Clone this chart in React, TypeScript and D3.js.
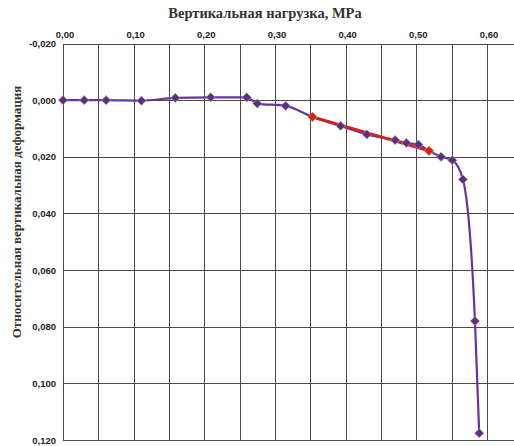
import React, { useEffect, useRef } from 'react';
import * as d3 from 'd3';

// Вертикальная нагрузка, MPa
const loads = [0, 0.03, 0.061, 0.111, 0.159, 0.209, 0.26, 0.275, 0.315, 0.353, 0.393, 0.43, 0.47, 0.486, 0.503, 0.518, 0.535, 0.551, 0.566, 0.583, 0.589];
// Относительная вертикальная деформация
const strains = [0, 0, 0, 0.0002, -0.0008, -0.001, -0.001, 0.0012, 0.002, 0.0059, 0.0091, 0.0121, 0.0141, 0.0151, 0.0157, 0.0179, 0.02, 0.0212, 0.028, 0.078, 0.1176];
// linear segment highlighted in red
const redLoads = [0.353, 0.518];
const redStrains = [0.0059, 0.0179];

const xTicks = [0, 0.1, 0.2, 0.3, 0.4, 0.5, 0.6];
const yTicks = [-0.02, 0, 0.02, 0.04, 0.06, 0.08, 0.1, 0.12];

const fmt = (v: number, d: number) => v.toFixed(d).replace('.', ',');

export default function App() {
  const svgRef = useRef<SVGSVGElement>(null);

  useEffect(() => {
    if (!svgRef.current) return;
    const svg = d3.select(svgRef.current);
    svg.selectAll('*').remove();

    const x = d3.scaleLinear().domain([0, 0.65]).range([63, 522.3]);
    const y = d3.scaleLinear().domain([-0.02, 0.12]).range([43.5, 440]);

    const pts = loads.map((l, i) => ({ x: l, y: strains[i] }));
    const red = redLoads.map((l, i) => ({ x: l, y: redStrains[i] }));

    // grid
    const grid = svg.append('g').attr('stroke', '#4a4a4a').attr('stroke-width', 1).attr('shape-rendering', 'crispEdges');
    grid.selectAll('line.v')
      .data(d3.range(0, 13).map(i => i * 0.05))
      .enter().append('line')
      .attr('x1', d => Math.round(x(d)) + 0.5)
      .attr('x2', d => Math.round(x(d)) + 0.5)
      .attr('y1', y(-0.02))
      .attr('y2', y(0.12));
    grid.selectAll('line.h')
      .data(yTicks)
      .enter().append('line')
      .attr('x1', x(0))
      .attr('x2', 514)
      .attr('y1', d => Math.round(y(d)) + 0.5)
      .attr('y2', d => Math.round(y(d)) + 0.5);

    // tick labels
    svg.append('g').selectAll('text')
      .data(xTicks)
      .enter().append('text')
      .attr('x', d => x(d) + 2)
      .attr('y', 38)
      .attr('text-anchor', 'middle')
      .attr('font-family', 'Liberation Sans, Arial, sans-serif')
      .attr('font-size', 9.5)
      .attr('font-weight', 'bold')
      .attr('fill', '#222')
      .text(d => fmt(d, 2));

    svg.append('g').selectAll('text')
      .data(yTicks)
      .enter().append('text')
      .attr('x', 56)
      .attr('y', d => y(d) + 3.5)
      .attr('text-anchor', 'end')
      .attr('font-family', 'Liberation Sans, Arial, sans-serif')
      .attr('font-size', 9.5)
      .attr('font-weight', 'bold')
      .attr('fill', '#222')
      .text(d => fmt(d, 3));

    // titles
    svg.append('text')
      .attr('x', 265)
      .attr('y', 18)
      .attr('text-anchor', 'middle')
      .attr('font-family', 'Liberation Serif, Times New Roman, serif')
      .attr('font-size', 14.5)
      .attr('font-weight', 'bold')
      .attr('fill', '#333')
      .text('Вертикальная нагрузка, MPa');

    svg.append('text')
      .attr('transform', 'translate(21,212) rotate(-90)')
      .attr('text-anchor', 'middle')
      .attr('font-family', 'Liberation Serif, Times New Roman, serif')
      .attr('font-size', 13)
      .attr('font-weight', 'bold')
      .attr('fill', '#333')
      .text('Относительная вертикальная деформация');

    // main curve
    const line = d3.line<{ x: number; y: number }>()
      .x(d => x(d.x))
      .y(d => y(d.y))
      .curve(d3.curveMonotoneX);

    svg.append('path')
      .datum(pts)
      .attr('d', line)
      .attr('fill', 'none')
      .attr('stroke', '#6335a0')
      .attr('stroke-width', 2.2);

    svg.append('path')
      .datum(red)
      .attr('d', d3.line<{ x: number; y: number }>().x(d => x(d.x)).y(d => y(d.y)))
      .attr('fill', 'none')
      .attr('stroke', '#d81e1e')
      .attr('stroke-width', 3);

    const diamond = d3.symbol().type(d3.symbolDiamond2).size(55);

    svg.append('g').selectAll('path')
      .data(pts)
      .enter().append('path')
      .attr('d', diamond)
      .attr('transform', d => `translate(${x(d.x)},${y(d.y)})`)
      .attr('fill', '#5a2f8a')
      .attr('stroke', '#c9b56a')
      .attr('stroke-width', 0.6);

    svg.append('g').selectAll('path')
      .data(red)
      .enter().append('path')
      .attr('d', diamond)
      .attr('transform', d => `translate(${x(d.x)},${y(d.y)})`)
      .attr('fill', '#e01a1a')
      .attr('stroke', '#e0a060')
      .attr('stroke-width', 0.6);
  }, []);

  return (
    <svg
      ref={svgRef}
      width={514}
      height={446}
      style={{ position: 'absolute', left: 0, top: 0, background: '#fff' }}
    />
  );
}
